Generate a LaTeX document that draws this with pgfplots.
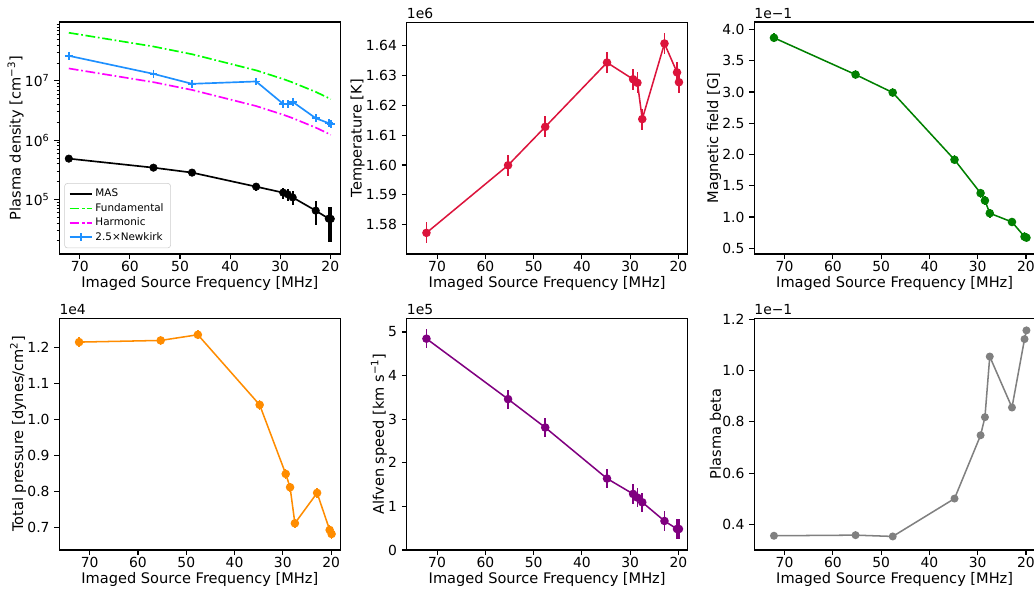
\documentclass[border=0pt]{standalone}
\usepackage{fontspec}
\setmainfont{DejaVu Sans}
\usepackage{pgfplots}
\pgfplotsset{compat=1.18}
\definecolor{crimson}{HTML}{DC143C}
\definecolor{mplgreen}{HTML}{008000}
\definecolor{darkorange}{HTML}{FF8C00}
\definecolor{mplpurple}{HTML}{800080}
\definecolor{mplgray}{HTML}{808080}
\definecolor{lime}{HTML}{00FF00}
\definecolor{mplmagenta}{HTML}{FF00FF}
\definecolor{dodgerblue}{HTML}{1E90FF}
\definecolor{legframe}{HTML}{CCCCCC}
\tikzset{offs/.style={anchor=south west, inner sep=0pt, yshift=2.5pt, font=\fontsize{10}{12}\selectfont}}
\pgfplotsset{
  panel/.style={
    scale only axis, width=202.3pt, height=167pt, anchor=south west,
    x dir=reverse, xtick={20,30,40,50,60,70},
    xmin=18.1, xmax=76.3,
    axis line style={line width=0.8pt},
    major tick style={line width=0.8pt,black},
    minor tick style={line width=0.6pt,black},
    tick align=outside, xtick pos=bottom, ytick pos=left,
    major tick length=3.5pt, minor tick length=2pt,
    tick label style={font=\fontsize{10}{12}\selectfont},
    label style={font=\fontsize{10.5}{12}\selectfont},
    xticklabel shift=-2pt,
    xlabel shift=-3pt,
    ylabel shift=-6pt,
    /pgf/number format/assume math mode=true,
    xlabel={Imaged Source Frequency [MHz]},
    clip=false,
  },
  dat/.style={line width=1.1pt, mark=*, mark size=2.5pt,
    error bars/y dir=both, error bars/y explicit, error bars/error mark=none,
    error bars/error bar style={line width=1.1pt}},
}
\begin{document}
\begin{tikzpicture}
\path[use as bounding box] (0pt,0pt) rectangle (744.48pt,424.08pt);

% ---------- Panel 1: Plasma density ----------
\begin{axis}[panel, at={(42.7pt,241.2pt)},
  xmin=18.0, xmax=74.1,
  ymode=log, ymin=1.2e4, ymax=9.8e7,
  ytick={1e5,1e6,1e7},
  yticklabels={10\textsuperscript{5},10\textsuperscript{6},10\textsuperscript{7}},
  minor ytick={2e4,3e4,4e4,5e4,6e4,7e4,8e4,9e4,2e5,3e5,4e5,5e5,6e5,7e5,8e5,9e5,2e6,3e6,4e6,5e6,6e6,7e6,8e6,9e6,2e7,3e7,4e7,5e7,6e7,7e7,8e7,9e7},
  ylabel={Plasma density [cm\textsuperscript{−3}]},
  legend style={at={(0.018,0.025)}, anchor=south west, draw=legframe, rounded corners=2pt,
    font=\fontsize{7.5}{9}\selectfont, row sep=0pt, inner xsep=3pt, inner ysep=2.5pt,
    nodes={inner ysep=1.6pt}},
  legend cell align=left,
  legend image code/.code={\draw[mark repeat=2,mark phase=2,#1] plot coordinates {(0pt,0pt) (8pt,0pt) (16pt,0pt)};},
]
\addplot[black, line width=1.2pt] table {
x y
72.2 4.87e5
55.3 3.43e5
47.6 2.83e5
34.8 1.64e5
29.4 1.30e5
28.5 1.22e5
27.5 1.08e5
22.9 6.46e4
20.3 4.73e4
19.9 4.70e4
};
\addlegendentry{MAS}
\addplot[lime, line width=1.2pt, dash pattern=on 7pt off 2pt on 1.2pt off 2pt] table {
x y
72.2 6.464e7
55.3 3.792e7
47.6 2.810e7
34.8 1.502e7
29.4 1.072e7
28.5 1.007e7
27.5 9.378e6
22.9 6.503e6
20.3 5.110e6
19.9 4.911e6
};
\addlegendentry{Fundamental}
\addplot[mplmagenta, line width=1.2pt, dash pattern=on 7pt off 2pt on 1.2pt off 2pt] table {
x y
72.2 1.616e7
55.3 9.48e6
47.6 7.025e6
34.8 3.755e6
29.4 2.68e6
28.5 2.518e6
27.5 2.345e6
22.9 1.626e6
20.3 1.278e6
19.9 1.228e6
};
\addlegendentry{Harmonic}
\addplot[dodgerblue, line width=1.2pt, mark=+, mark size=2.8pt] table {
x y
72.2 2.64e7
55.3 1.31e7
47.6 8.9e6
34.8 9.75e6
29.4 4.08e6
28.5 4.08e6
27.5 4.42e6
22.9 2.34e6
20.3 1.93e6
19.9 1.85e6
};
\addlegendentry{2.5×Newkirk}
\addplot[black, only marks, mark=*, mark size=2.7pt, forget plot,
  error bars/y dir=both, error bars/y explicit, error bars/error mark=none,
  error bars/error bar style={line width=1.2pt}] table[x=x, y=y, y error=e] {
x y e
72.2 4.87e5 2.8e4
55.3 3.43e5 2.8e4
47.6 2.83e5 2.8e4
34.8 1.64e5 2.8e4
29.4 1.30e5 2.8e4
28.5 1.22e5 2.8e4
27.5 1.08e5 2.8e4
22.9 6.46e4 2.8e4
20.3 4.73e4 2.8e4
19.9 4.70e4 2.8e4
};
\end{axis}

% ---------- Panel 2: Temperature ----------
\begin{axis}[panel, at={(292.8pt,241.2pt)},
  ymin=1.5701, ymax=1.6480,
  ytick={1.58,1.59,1.60,1.61,1.62,1.63,1.64},
  yticklabel style={/pgf/number format/.cd, fixed, fixed zerofill, precision=2},
  ylabel={Temperature [K]},
]
\addplot[dat, crimson] table[x=x, y=y, y error=e] {
x y e
72.2 1.5772 0.0035
55.3 1.5999 0.0035
47.6 1.6128 0.0035
34.8 1.6344 0.0035
29.4 1.6288 0.0035
28.5 1.6276 0.0035
27.5 1.6154 0.0035
22.9 1.6408 0.0035
20.3 1.6311 0.0035
19.9 1.6278 0.0035
};
\node[offs] at (rel axis cs:0,1) {1e6};
\end{axis}

% ---------- Panel 3: Magnetic field ----------
\begin{axis}[panel, at={(543.0pt,241.2pt)},
  ymin=0.409, ymax=4.118,
  ytick={0.5,1.0,1.5,2.0,2.5,3.0,3.5,4.0},
  yticklabel style={/pgf/number format/.cd, fixed, fixed zerofill, precision=1},
  ylabel={Magnetic field [G]},
]
\addplot[dat, mplgreen] table[x=x, y=y, y error=e] {
x y e
72.2 3.866 0.07
55.3 3.278 0.07
47.6 2.990 0.07
34.8 1.916 0.07
29.4 1.382 0.07
28.5 1.264 0.07
27.5 1.061 0.07
22.9 0.921 0.07
20.3 0.686 0.07
19.9 0.670 0.07
};
\node[offs] at (rel axis cs:0,1) {1e−1};
\end{axis}

% ---------- Panel 4: Total pressure ----------
\begin{axis}[panel, at={(42.7pt,28.08pt)},
  ymin=0.637, ymax=1.2806,
  ytick={0.7,0.8,0.9,1.0,1.1,1.2},
  yticklabel style={/pgf/number format/.cd, fixed, fixed zerofill, precision=1},
  ylabel={Total pressure [dynes/cm\textsuperscript{2}]},
]
\addplot[dat, darkorange] table[x=x, y=y, y error=e] {
x y e
72.2 1.2139 0.013
55.3 1.2185 0.013
47.6 1.2343 0.013
34.8 1.0398 0.013
29.4 0.8481 0.013
28.5 0.8111 0.013
27.5 0.7111 0.013
22.9 0.7954 0.013
20.3 0.6926 0.013
19.9 0.6815 0.013
};
\node[offs] at (rel axis cs:0,1) {1e4};
\end{axis}

% ---------- Panel 5: Alfven speed ----------
\begin{axis}[panel, at={(292.8pt,28.08pt)},
  ymin=0, ymax=5.32,
  ytick={0,1,2,3,4,5},
  ylabel={Alfven speed [km s\textsuperscript{−1}]},
]
\addplot[dat, mplpurple] table[x=x, y=y, y error=e] {
x y e
72.2 4.847 0.22
55.3 3.461 0.22
47.6 2.810 0.22
34.8 1.639 0.22
29.4 1.286 0.22
28.5 1.202 0.22
27.5 1.095 0.22
22.9 0.666 0.22
20.3 0.482 0.22
19.9 0.482 0.22
};
\node[offs] at (rel axis cs:0,1) {1e5};
\end{axis}

% ---------- Panel 6: Plasma beta ----------
\begin{axis}[panel, at={(543.0pt,28.08pt)},
  ymin=0.30, ymax=1.205,
  ytick={0.4,0.6,0.8,1.0,1.2},
  yticklabel style={/pgf/number format/.cd, fixed, fixed zerofill, precision=1},
  ylabel={Plasma beta},
]
\addplot[mplgray, line width=1.1pt, mark=*, mark size=2.3pt] table {
x y
72.2 0.3556
55.3 0.3580
47.6 0.3529
34.8 0.5007
29.4 0.7477
28.5 0.8183
27.5 1.0549
22.9 0.8560
20.3 1.1229
19.9 1.1569
};
\node[offs] at (rel axis cs:0,1) {1e−1};
\end{axis}
\end{tikzpicture}
\end{document}
